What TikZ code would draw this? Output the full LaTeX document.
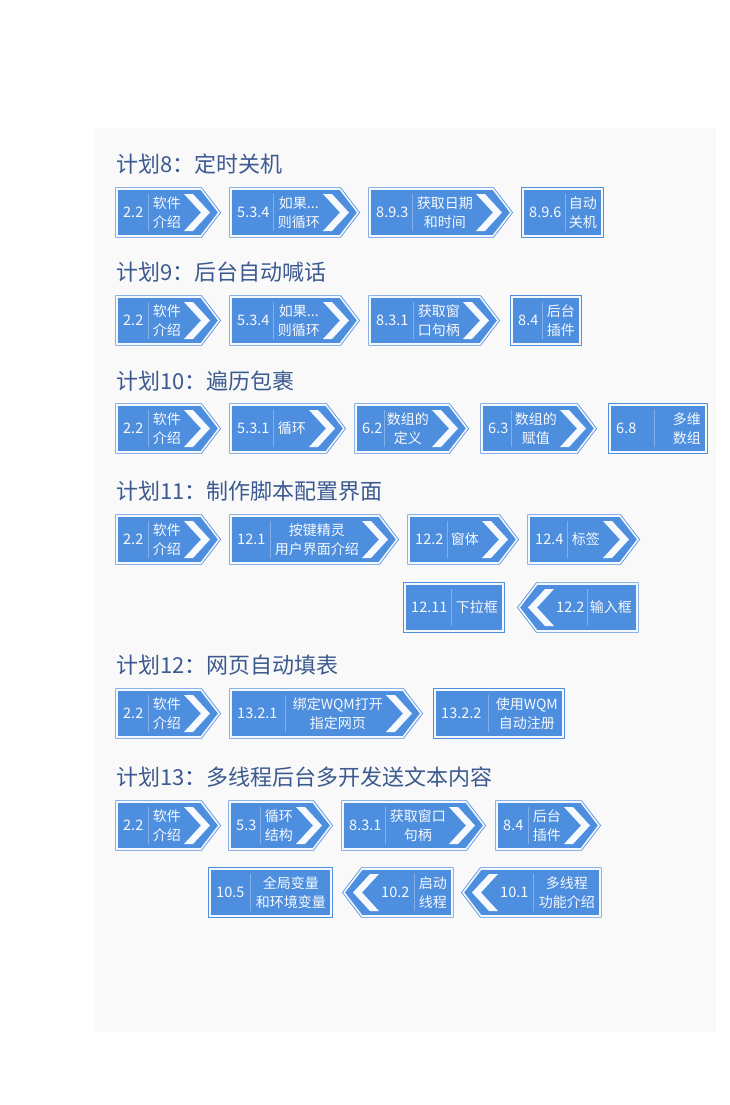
\documentclass[tikz,border=0pt]{standalone}
\usepackage{fontspec}
\setmainfont{Noto Sans CJK SC}
\usetikzlibrary{calc}
\definecolor{signblue}{RGB}{78,142,223}
\definecolor{titleblue}{RGB}{60,90,143}
\definecolor{paper}{RGB}{249,249,249}
\tikzset{
  signframe/.style={draw=signblue,double=white!94!signblue,double distance=1.6pt,line width=0.8pt,fill=signblue},
  chev/.style={fill=white!95!signblue},
  signnum/.style={text=white!95!signblue,font=\fontsize{14.5}{18}\selectfont,inner sep=0pt},
  signtxt/.style={text=white!95!signblue,font=\fontsize{14}{18.5}\selectfont,inner sep=0pt,align=center},
  divider/.style={draw=white,opacity=0.3,line width=0.6pt},
  plantitle/.style={text=titleblue,font=\fontsize{22}{26}\selectfont,anchor=west,inner sep=0pt}
}
% name, left, tip, top, number, text
\newcommand{\rsign}[6]{%
\draw[signframe](#2,#4)--({#3-18},#4)--(#3,{#4+23.5})--({#3-18},{#4+47})--(#2,{#4+47})--cycle;
\fill[chev]({#3-35},{#4+5})--({#3-26},{#4+5})--({#3-9},{#4+23.5})--({#3-26},{#4+42})--({#3-35},{#4+42})--({#3-18},{#4+23.5})--cycle;
\node[signnum,anchor=west](#1n) at ({#2+6},{#4+23.5}){#5};
\node[signtxt,anchor=east](#1t) at ({#3-38},{#4+23.5}){#6};
\draw[divider]($(#1n.east)!0.5!(#1t.west)$)++(0,-18.5)--++(0,37);
}
% name, left, right, top, number, text
\newcommand{\psign}[6]{%
\draw[signframe](#2,#4)--(#3,#4)--(#3,{#4+47})--(#2,{#4+47})--cycle;
\node[signnum,anchor=west](#1n) at ({#2+6},{#4+23.5}){#5};
\node[signtxt,anchor=east](#1t) at ({#3-5},{#4+23.5}){#6};
\draw[divider]($(#1n.east)!0.5!(#1t.west)$)++(0,-18.5)--++(0,37);
}
% name, tip, right, top, number, text
\newcommand{\lsign}[6]{%
\draw[signframe](#2,{#4+23.5})--({#2+18},#4)--(#3,#4)--(#3,{#4+47})--({#2+18},{#4+47})--cycle;
\fill[chev]({#2+35},{#4+5})--({#2+26},{#4+5})--({#2+9},{#4+23.5})--({#2+26},{#4+42})--({#2+35},{#4+42})--({#2+18},{#4+23.5})--cycle;
\node[signnum,anchor=west](#1n) at ({#2+37},{#4+23.5}){#5};
\node[signtxt,anchor=east](#1t) at ({#3-5},{#4+23.5}){#6};
\draw[divider]($(#1n.east)!0.5!(#1t.west)$)++(0,-18.5)--++(0,37);
}
\begin{document}
\begin{tikzpicture}[x=1pt,y=-1pt]
\useasboundingbox(0,0) rectangle (730,1105);
\fill[paper](95,128) rectangle (716,1032);
\node[plantitle](t8) at (116,164){计划8：定时关机};
\rsign{a1}{117}{219}{189}{2.2}{软件\\介绍}
\rsign{a2}{231}{358}{189}{5.3.4}{如果...\\则循环}
\rsign{a3}{370}{511}{189}{8.9.3}{获取日期\\和时间}
\psign{a4}{523}{602}{189}{8.9.6}{自动\\关机}
\node[plantitle](t9) at (116,272){计划9：后台自动喊话};
\rsign{b1}{117}{219}{297}{2.2}{软件\\介绍}
\rsign{b2}{231}{358}{297}{5.3.4}{如果...\\则循环}
\rsign{b3}{370}{498}{297}{8.3.1}{获取窗\\口句柄}
\psign{b4}{512}{580}{297}{8.4}{后台\\插件}
\node[plantitle](t10) at (116,381){计划10：遍历包裹};
\rsign{c1}{117}{219}{405}{2.2}{软件\\介绍}
\rsign{c2}{231}{344}{405}{5.3.1}{循环}
\rsign{c3}{356}{467}{405}{6.2}{数组的\\定义}
\rsign{c4}{482}{595}{405}{6.3}{数组的\\赋值}
\psign{c5}{610}{706}{405}{6.8}{多维\\数组}
\node[plantitle](t11) at (116,491){计划11：制作脚本配置界面};
\rsign{d1}{117}{219}{516}{2.2}{软件\\介绍}
\rsign{d2}{231}{397}{516}{12.1}{按键精灵\\用户界面介绍}
\rsign{d3}{409}{517}{516}{12.2}{窗体}
\rsign{d4}{529}{638}{516}{12.4}{标签}
\psign{d5}{405}{503}{584}{12.11}{下拉框}
\lsign{d6}{519}{637}{584}{12.2}{输入框}
\node[plantitle](t12) at (116,665){计划12：网页自动填表};
\rsign{e1}{117}{219}{690}{2.2}{软件\\介绍}
\rsign{e2}{231}{421}{690}{13.2.1}{绑定WQM打开\\指定网页}
\psign{e3}{435}{563}{690}{13.2.2}{使用WQM\\自动注册}
\node[plantitle](t13) at (116,777){计划13：多线程后台多开发送文本内容};
\rsign{f1}{117}{219}{802}{2.2}{软件\\介绍}
\rsign{f2}{230}{331}{802}{5.3}{循环\\结构}
\rsign{f3}{343}{484}{802}{8.3.1}{获取窗口\\句柄}
\rsign{f4}{497}{599}{802}{8.4}{后台\\插件}
\psign{f5}{210}{331}{869}{10.5}{全局变量\\和环境变量}
\lsign{f6}{344}{452}{869}{10.2}{启动\\线程}
\lsign{f7}{463}{600}{869}{10.1}{多线程\\功能介绍}
\end{tikzpicture}
\end{document}
